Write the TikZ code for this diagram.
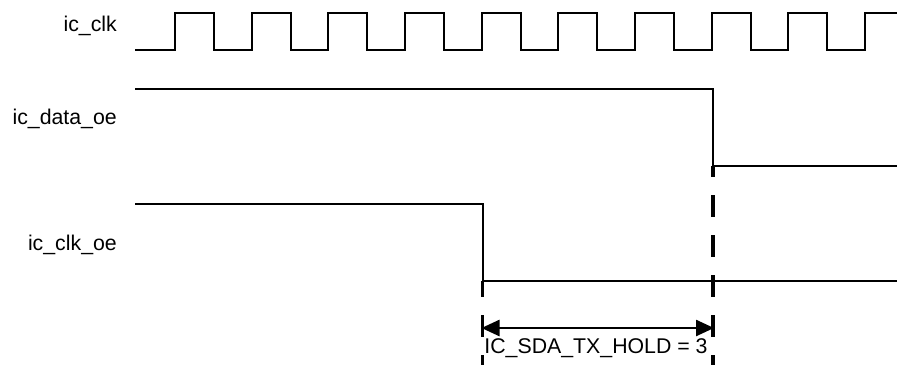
\documentclass[tikz,border=0pt]{standalone}
\usepackage{fontspec}
\setmainfont{Liberation Sans}
\usetikzlibrary{arrows.meta}
\begin{document}
\begin{tikzpicture}[x=1pt,y=-1pt,
  wave/.style={line width=2pt},
  marker/.style={line width=3.3pt, dash pattern=on 22pt off 18pt},
  siglabel/.style={anchor=base east, inner sep=0pt, font=\fontsize{21.3}{25}\selectfont},
  dim/.style={line width=2.5pt, {Triangle[length=18pt,width=16pt]}-{Triangle[length=18pt,width=16pt]}, shorten <=-1pt, shorten >=-1pt}]
\useasboundingbox (0,0) rectangle (897,365);
% labels
\node[siglabel] (lclk) at (117,31.5) {ic\_clk};
\node[siglabel] (ldata) at (117,124) {ic\_data\_oe};
\node[siglabel] (lclkoe) at (117,250) {ic\_clk\_oe};
% clock
\draw[wave, line join=miter] (135,50)
  foreach \k in {0,...,8} { -- ({175+76.65*\k},50) -- ({175+76.65*\k},13) -- ({214+76.65*\k},13) -- ({214+76.65*\k},50) }
  -- (864.8,50) -- (864.8,13) -- (897,13);
% data oe
\coordinate (dfall) at (713,166);
\draw[wave] (135,89) -- (713,89) -- (dfall) -- (897,166);
% clk oe
\coordinate (cfall) at (482.5,281);
\draw[wave] (135,204) -- (482.5,204) -- (cfall) -- (897,281);
% markers
\coordinate (dend) at (713,365);
\coordinate (cend) at (482.5,365);
\draw[marker, dash phase=11pt] (dfall) -- (dend);
\draw[marker, dash phase=6pt] (cfall) -- (cend);
% dimension
\coordinate (a1) at (482.5,328);
\coordinate (a2) at (713,328);
\draw[dim] (a1) -- (a2);
\node[anchor=base, inner sep=0pt, font=\fontsize{21.3}{25}\selectfont] (hold) at (596,353) {IC\_SDA\_TX\_HOLD = 3};
\end{tikzpicture}
\end{document}
